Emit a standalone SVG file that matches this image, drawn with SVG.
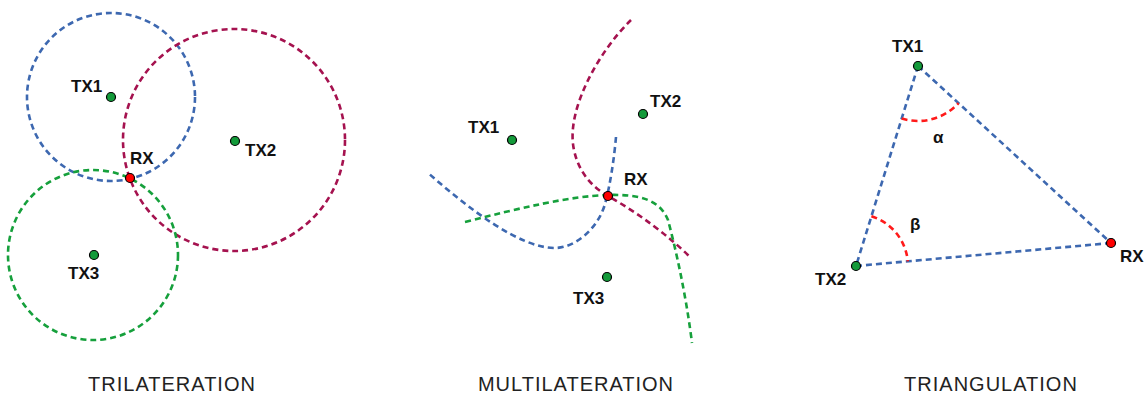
<svg xmlns="http://www.w3.org/2000/svg" width="1145" height="394" viewBox="0 0 1145 394">
<style>
.c{fill:none;stroke-width:2.6;stroke-dasharray:6 4}
.b{stroke:#3d68b0}
.m{stroke:#a5124f}
.g{stroke:#16a03c}
.r{stroke:#ff1a1a}
.tx{fill:#139a3a;stroke:#000;stroke-width:1.2}
.rx{fill:#ff0000;stroke:#000;stroke-width:1.2}
.lb{font-family:"Liberation Sans",Arial,sans-serif;font-weight:bold;font-size:17px;fill:#111}
.gk{font-family:"Liberation Sans",Arial,sans-serif;font-weight:bold;font-size:17px;fill:#111}
.ti{font-family:"Liberation Sans",Arial,sans-serif;font-size:20px;letter-spacing:1px;fill:#222;text-anchor:middle}
</style>
<rect width="1145" height="394" fill="#fff"/>
<g id="connectors">
  <circle class="c b" cx="111" cy="97" r="84"/>
  <circle class="c m" cx="234" cy="140" r="111"/>
  <circle class="c g" cx="93" cy="255" r="85"/>
  <path class="c m" d="M631,20 C600,50 565,110 574,150 C580,178 598,190 608,196 C640,214 670,237 691,258"/>
  <path class="c b" d="M616,137 C614,160 610,185 606,200 C600,228 575,248 555,248 C520,248 470,210 427,172"/>
  <path class="c g" d="M465,222 C520,208 570,196 608,195 C640,194 660,200 668,220 C676,250 686,295 692,343"/>
  <line class="c b" x1="918" y1="66" x2="856" y2="266"/>
  <line class="c b" x1="918" y1="66" x2="1111" y2="243"/>
  <line class="c b" x1="856" y1="266" x2="1111" y2="243"/>
  <path class="c r" d="M901.7,118.5 A55,55 0 0 0 958.5,103.2"/>
  <path class="c r" d="M871.4,216.3 A52,52 0 0 1 907.8,261.3"/>
</g>
<g id="tri-tx1"><circle class="tx" cx="111" cy="97" r="4.5"/><text class="lb" x="71" y="92">TX1</text></g>
<g id="tri-tx2"><circle class="tx" cx="235" cy="141" r="4.5"/><text class="lb" x="245" y="156">TX2</text></g>
<g id="tri-tx3"><circle class="tx" cx="94" cy="255" r="4.5"/><text class="lb" x="68" y="279">TX3</text></g>
<g id="tri-rx"><circle class="rx" cx="130" cy="178" r="4.5"/><text class="lb" x="130" y="164">RX</text></g>

<g id="mul-tx1"><circle class="tx" cx="512" cy="140" r="4.5"/><text class="lb" x="468" y="133">TX1</text></g>
<g id="mul-tx2"><circle class="tx" cx="643" cy="114" r="4.5"/><text class="lb" x="650" y="107">TX2</text></g>
<g id="mul-tx3"><circle class="tx" cx="607" cy="277" r="4.5"/><text class="lb" x="573" y="304">TX3</text></g>
<g id="mul-rx"><circle class="rx" cx="608" cy="196" r="4.5"/><text class="lb" x="624" y="185">RX</text></g>

<g id="ang-tx1"><circle class="tx" cx="918" cy="66" r="4.5"/><text class="lb" x="892" y="52">TX1</text></g>
<g id="ang-tx2"><circle class="tx" cx="856" cy="266" r="4.5"/><text class="lb" x="815" y="285">TX2</text></g>
<g id="ang-rx"><circle class="rx" cx="1111" cy="243" r="4.5"/><text class="lb" x="1120" y="262">RX</text></g>
<g id="alpha"><text class="gk" x="933" y="143">α</text></g>
<g id="beta"><text class="gk" x="910" y="230">β</text></g>

<g id="titles">
  <text class="ti" x="172" y="391">TRILATERATION</text>
  <text class="ti" x="576" y="391">MULTILATERATION</text>
  <text class="ti" x="991" y="391">TRIANGULATION</text>
</g>
</svg>
